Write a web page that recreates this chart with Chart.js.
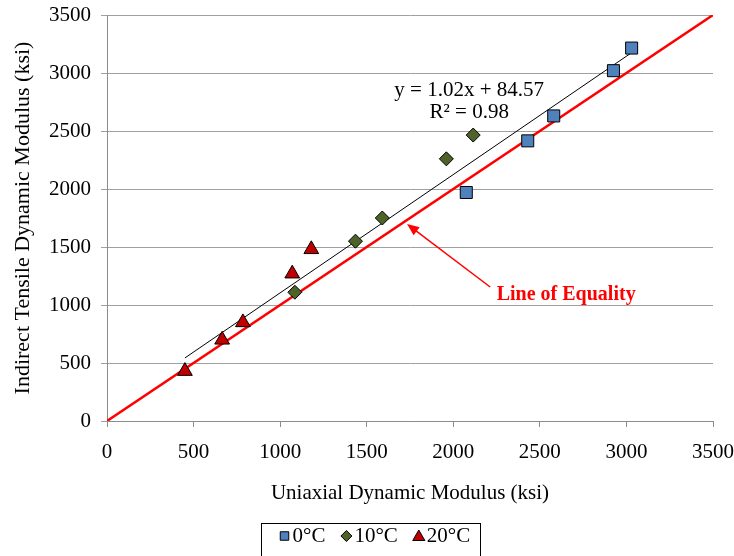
<!DOCTYPE html>
<html>
<head>
<meta charset="utf-8">
<script src="https://cdn.jsdelivr.net/npm/chart.js@4/dist/chart.umd.min.js"></script>
<style>
  html, body { margin: 0; padding: 0; background: #ffffff; }
  #wrap { width: 734px; height: 556px; position: relative; }
</style>
</head>
<body>
<div id="wrap"><canvas id="chart"></canvas></div>
<script>
// Measured moduli (ksi): uniaxial (x) vs indirect tensile (y), by test temperature
const seriesNames = ['0°C', '10°C', '20°C'];
const uniaxial0C  = [2075, 2430, 2580, 2925, 3030];
const indirect0C  = [1970, 2415, 2630, 3020, 3215];
const uniaxial10C = [1085, 1435, 1590, 1960, 2115];
const indirect10C = [1110, 1550, 1750, 2260, 2465];
const uniaxial20C = [450, 665, 785, 1070, 1180];
const indirect20C = [430, 700, 850, 1270, 1480];

// Axis range and tick spacing
const axisMin = 0;
const axisMax = 3500;
const tickStep = 500;

// Linear fit over all points and the 1:1 reference line
const trendSlope = 1.02;
const trendIntercept = 84.57;
const trendR2 = 0.98;
const trendXRange = [450, 3030];
const equalityRange = [0, 3500];

const SERIF = '"Liberation Serif", "Times New Roman", serif';
const colors = { c0: '#4F81BD', c10: '#4F6228', c20: '#C00000', eq: '#FF0000' };

function pairs(xs, ys) { return xs.map((x, i) => ({ x: x, y: ys[i] })); }

const trendData = trendXRange.map(x => ({ x: x, y: trendSlope * x + trendIntercept }));
const equalityData = equalityRange.map(v => ({ x: v, y: v }));

const markerStyles = [
  { style: 'rect', color: colors.c0, radius: 8.5, legendRadius: 6 },
  { style: 'rectRot', color: colors.c10, radius: 7, legendRadius: 5.5 },
  { style: 'triangle', color: colors.c20, radius: 8.5, legendRadius: 7 }
];

// Equation, R² and the "Line of Equality" callout
const annotations = {
  id: 'annotations',
  afterDatasetsDraw(chart) {
    const ctx = chart.ctx;
    const xs = chart.scales.x, ys = chart.scales.y;
    ctx.save();
    ctx.fillStyle = '#000';
    ctx.font = '21px ' + SERIF;
    ctx.textAlign = 'center';
    ctx.textBaseline = 'middle';
    const ex = xs.getPixelForValue(2092), ey = ys.getPixelForValue(2853);
    ctx.fillText('y = ' + trendSlope.toFixed(2) + 'x + ' + trendIntercept.toFixed(2), ex, ey);
    ctx.fillText('R² = ' + trendR2.toFixed(2), ex, ey + 22);

    ctx.fillStyle = colors.eq;
    ctx.font = 'bold 20px ' + SERIF;
    ctx.fillText('Line of Equality', xs.getPixelForValue(2652), ys.getPixelForValue(1086));

    // arrow pointing at the 1:1 line
    const tx = xs.getPixelForValue(2213), ty = ys.getPixelForValue(1155);
    const hx = xs.getPixelForValue(1733), hy = ys.getPixelForValue(1698);
    const ang = Math.atan2(hy - ty, hx - tx);
    const headLen = 12, headHalf = 5;
    ctx.strokeStyle = colors.eq;
    ctx.lineWidth = 1.5;
    ctx.beginPath();
    ctx.moveTo(tx, ty);
    ctx.lineTo(hx - Math.cos(ang) * headLen * 0.8, hy - Math.sin(ang) * headLen * 0.8);
    ctx.stroke();
    ctx.beginPath();
    ctx.moveTo(hx, hy);
    ctx.lineTo(hx - Math.cos(ang) * headLen - Math.sin(ang) * headHalf,
               hy - Math.sin(ang) * headLen + Math.cos(ang) * headHalf);
    ctx.lineTo(hx - Math.cos(ang) * headLen + Math.sin(ang) * headHalf,
               hy - Math.sin(ang) * headLen - Math.cos(ang) * headHalf);
    ctx.closePath();
    ctx.fillStyle = colors.eq;
    ctx.fill();
    ctx.restore();
  }
};

// Boxed legend centred under the x-axis title
const boxedLegend = {
  id: 'boxedLegend',
  afterDraw(chart) {
    const ctx = chart.ctx;
    ctx.save();
    ctx.font = '21px ' + SERIF;
    const markerW = 10, markerGap = 3, itemGap = 16, padL = 18, padR = 10;
    const widths = seriesNames.map(n => ctx.measureText(n).width);
    let total = padL + padR;
    widths.forEach((w, i) => { total += markerW + markerGap + w + (i < widths.length - 1 ? itemGap : 0); });
    const cx = 370;
    const left = Math.round(cx - total / 2) + 0.5;
    const top = 523.5;
    ctx.strokeStyle = '#000';
    ctx.lineWidth = 1;
    ctx.strokeRect(left, top, Math.round(total), 40);
    let x = left + padL;
    const cy = 536;
    seriesNames.forEach((name, i) => {
      const m = markerStyles[i];
      ctx.fillStyle = m.color;
      ctx.strokeStyle = '#000';
      ctx.lineWidth = 1;
      Chart.helpers.drawPoint(ctx, { pointStyle: m.style, radius: m.legendRadius, rotation: 0, borderWidth: 1 },
        x + markerW / 2, cy + (m.style === 'triangle' ? 1 : 0));
      ctx.fillStyle = '#000';
      ctx.textAlign = 'left';
      ctx.textBaseline = 'middle';
      const tx = x + markerW + markerGap;
      ctx.fillText(name, tx, cy);
      x = tx + widths[i] + itemGap;
    });
    ctx.restore();
  }
};

const whiteBg = {
  id: 'whiteBg',
  beforeDraw(chart) {
    const ctx = chart.ctx;
    ctx.save();
    ctx.fillStyle = '#fff';
    ctx.fillRect(0, 0, chart.width, chart.height);
    ctx.restore();
  }
};

function scatterSet(label, data, m, order) {
  return {
    label: label,
    data: data,
    pointStyle: m.style,
    pointRadius: m.radius,
    pointHoverRadius: m.radius,
    backgroundColor: m.color,
    borderColor: '#000',
    borderWidth: 1,
    showLine: false,
    order: order
  };
}

const plainNumber = v => String(v);

// fixed axis box sizes; label overhang is covered by the layout padding
function fixBox(s, size) {
  if (s.isHorizontal()) s.height = size; else s.width = size;
  s.paddingTop = 0; s.paddingBottom = 0; s.paddingLeft = 0; s.paddingRight = 0;
}

new Chart(document.getElementById('chart'), {
  type: 'scatter',
  data: {
    datasets: [
      scatterSet(seriesNames[0], pairs(uniaxial0C, indirect0C), markerStyles[0], 0),
      scatterSet(seriesNames[1], pairs(uniaxial10C, indirect10C), markerStyles[1], 0),
      scatterSet(seriesNames[2], pairs(uniaxial20C, indirect20C), markerStyles[2], 0),
      {
        label: 'Linear fit',
        data: trendData,
        showLine: true,
        borderColor: '#000',
        borderWidth: 1,
        pointRadius: 0,
        fill: false,
        order: 5
      },
      {
        label: 'Line of Equality',
        data: equalityData,
        showLine: true,
        borderColor: colors.eq,
        borderWidth: 2.5,
        pointRadius: 0,
        fill: false,
        order: 6
      }
    ]
  },
  options: {
    responsive: true,
    maintainAspectRatio: false,
    animation: false,
    events: [],
    layout: { padding: { top: 15, right: 21, left: 0, bottom: 0 } },
    plugins: {
      legend: { display: false },
      tooltip: { enabled: false },
      title: { display: false }
    },
    scales: {
      x: {
        type: 'linear',
        min: axisMin,
        max: axisMax,
        ticks: { stepSize: tickStep, callback: plainNumber, color: '#000', font: { family: SERIF, size: 21 }, padding: 13, maxRotation: 0 },
        grid: { drawOnChartArea: false, drawTicks: true, tickLength: 6, color: '#8c8c8c', lineWidth: 1 },
        border: { color: '#8c8c8c', width: 1 },
        title: { display: true, text: 'Uniaxial Dynamic Modulus (ksi)', color: '#000', font: { family: SERIF, size: 21 }, padding: { top: 0, bottom: 50 } },
        afterFit(s) { fixBox(s, 135); }
      },
      y: {
        type: 'linear',
        min: axisMin,
        max: axisMax,
        ticks: { stepSize: tickStep, callback: plainNumber, color: '#000', font: { family: SERIF, size: 21 }, padding: 10 },
        grid: { drawTicks: true, tickLength: 6, color: '#a0a0a0', lineWidth: 1 },
        border: { color: '#8c8c8c', width: 1 },
        title: { display: true, text: 'Indirect Tensile Dynamic Modulus (ksi)', color: '#000', font: { family: SERIF, size: 22 }, padding: { top: 10, bottom: 0 } },
        afterFit(s) { fixBox(s, 107); }
      }
    }
  },
  plugins: [whiteBg, annotations, boxedLegend]
});
</script>
</body>
</html>
